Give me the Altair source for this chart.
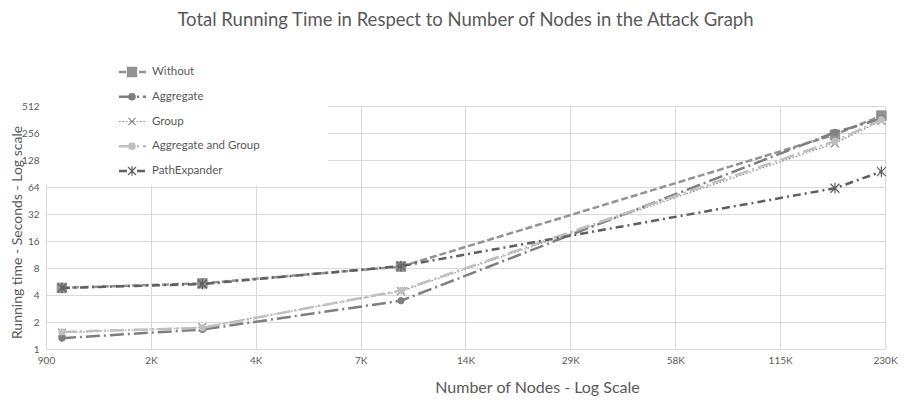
import altair as alt
import pandas as pd

series = ["Without", "Aggregate", "Group", "Aggregate and Group", "PathExpander"]
nodes = [1000, 2530, 9400, 165500, 225000]
without = [4.8, 5.4, 8.3, 245, 400]
aggregate = [1.32, 1.65, 3.45, 260, 370]
group = [1.52, 1.75, 4.4, 197, 350]
agg_group = [1.55, 1.72, 4.5, 208, 360]
path_expander = [4.8, 5.3, 8.4, 62, 95]

x_ticks = [900, 1800, 3600, 7200, 14400, 28800, 57600, 115200, 230400]
x_labels = ["900", "2K", "4K", "7K", "14K", "29K", "58K", "115K", "230K"]
y_ticks = [1, 2, 4, 8, 16, 32, 64, 128, 256, 512]

chart_title = "Total Running Time in Respect to Number of Nodes in the Attack Graph"

values = [without, aggregate, group, agg_group, path_expander]

FONT = "Lato"
TXT = "#595959"
GRID = "#d9d9d9"

X_PATH = "M-1,-1L1,1M-1,1L1,-1"
STAR_PATH = "M-1,-1L1,1M-1,1L1,-1M0,-1.2L0,1.2"

styles = [
    dict(color="#939393", width=2.5, dash=[7, 3], shape="square", size=90, filled=True),
    dict(color="#7f7f7f", width=2.5, dash=[14, 4, 2, 4], shape="circle", size=40, filled=True),
    dict(color="#8c8c8c", width=1.2, dash=[1.5, 2], shape=X_PATH, size=64, filled=False),
    dict(color="#bfbfbf", width=2.5, dash=[14, 4, 2, 4], shape="circle", size=40, filled=True),
    dict(color="#5f5f5f", width=2.5, dash=[8, 4, 2, 4], shape=STAR_PATH, size=80, filled=False),
]

W = 839
H = 243

label_expr = ""
for v, l in zip(x_ticks, x_labels):
    label_expr += f"datum.value == {v} ? '{l}' : "
label_expr += "''"

x_scale = alt.Scale(type="log", base=2, domain=[900, 230400], nice=False)
y_scale = alt.Scale(type="log", base=2, domain=[1, 512], nice=False)

x_axis = alt.Axis(values=x_ticks, labelExpr=label_expr, title="Number of Nodes - Log Scale",
                  grid=True, gridColor=GRID, ticks=False, domain=False,
                  labelFont=FONT, labelFontSize=10, labelColor=TXT, labelPadding=6,
                  titleFont=FONT, titleFontSize=16, titleFontWeight="normal", titleColor=TXT,
                  titleX=491, titleY=38, titleBaseline="middle", labelFlush=False)
y_axis = alt.Axis(values=y_ticks, format="d", title="Running  time - Seconds - Log scale",
                  grid=True, gridColor=GRID, ticks=False, domain=False,
                  labelFont=FONT, labelFontSize=10, labelColor=TXT, labelPadding=7,
                  titleFont=FONT, titleFontSize=14, titleFontWeight="normal", titleColor=TXT,
                  titleX=-29, titleY=126, titleBaseline="middle", titleAngle=270)

layers = []
for i, (name, vals, st) in enumerate(zip(series, values, styles)):
    df = pd.DataFrame({"nodes": nodes, "seconds": vals, "series": name})
    base = alt.Chart(df).encode(
        x=alt.X("nodes:Q", scale=x_scale, axis=x_axis),
        y=alt.Y("seconds:Q", scale=y_scale, axis=y_axis),
    )
    layers.append(base.mark_line(color=st["color"], strokeWidth=st["width"], strokeDash=st["dash"]))
    if st["filled"]:
        pt = base.mark_point(shape=st["shape"], size=st["size"], filled=True, fill=st["color"],
                             stroke=st["color"], strokeWidth=1, opacity=1)
    else:
        pt = base.mark_point(shape=st["shape"], size=st["size"], filled=False, stroke=st["color"],
                             strokeWidth=1.2, opacity=1)
    layers.append(pt)

one = pd.DataFrame({"a": [0]})

# legend background
bg = alt.Chart(one).mark_rect(color="white").encode(
    x=alt.value(-1), x2=alt.value(282), y=alt.value(-60), y2=alt.value(79))
layers.append(bg)

for i, (name, st) in enumerate(zip(series, styles)):
    yy = -34 + 24.75 * i
    d = pd.DataFrame({"name": [name]})
    c = alt.Chart(d)
    layers.append(c.mark_rule(color=st["color"], strokeWidth=st["width"], strokeDash=st["dash"]).encode(
        x=alt.value(73), x2=alt.value(100), y=alt.value(yy)))
    if st["filled"]:
        layers.append(c.mark_point(shape=st["shape"], size=st["size"] * 0.8, filled=True, fill=st["color"],
                                   stroke=st["color"], opacity=1).encode(x=alt.value(86), y=alt.value(yy)))
    else:
        layers.append(c.mark_point(shape=st["shape"], size=st["size"] * 0.8, filled=False, stroke=st["color"],
                                   strokeWidth=1.2, opacity=1).encode(x=alt.value(86), y=alt.value(yy)))
    layers.append(c.mark_text(align="left", baseline="middle", font=FONT, fontSize=11.5, color=TXT).encode(
        x=alt.value(106), y=alt.value(yy), text="name:N"))

title_layer = alt.Chart(pd.DataFrame({"t": [chart_title]})).mark_text(
    align="center", baseline="middle", font=FONT, fontSize=18.5, color=TXT).encode(
    x=alt.value(W / 2), y=alt.value(-86), text="t:N")
layers.append(title_layer)

chart = alt.layer(*layers).properties(
    width=W, height=H,
    autosize=alt.AutoSizeParams(type="none"),
    padding={"left": 38, "top": 98, "right": 13, "bottom": 47},
).configure_view(stroke=None)

chart.save("out.html", embed_options={"renderer": "svg", "actions": False})
